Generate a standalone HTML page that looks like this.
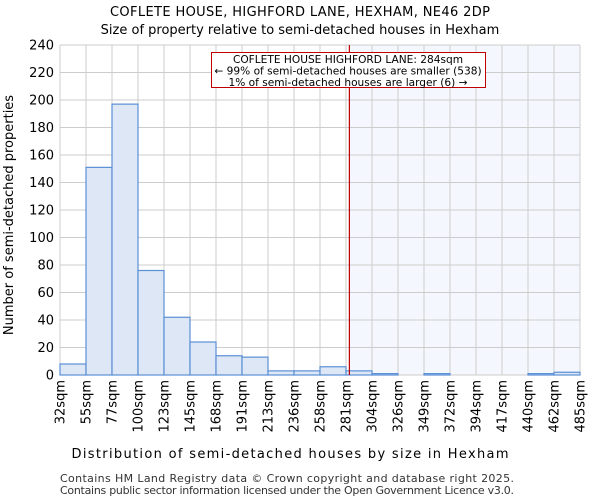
<!DOCTYPE html>
<html><head><meta charset="utf-8"><style>
body{margin:0;background:#fff;font-family:"DejaVu Sans","Liberation Sans",sans-serif}
</style></head><body>
<svg id="c" width="600" height="500" xmlns="http://www.w3.org/2000/svg" font-family="DejaVu Sans, Liberation Sans, sans-serif">
<text x="300" y="16" text-anchor="middle" font-size="13" textLength="380">COFLETE HOUSE, HIGHFORD LANE, HEXHAM, NE46 2DP</text>
<text x="300" y="34" text-anchor="middle" font-size="13">Size of property relative to semi-detached houses in Hexham</text>
<g id="plot"></g>
<text x="290" y="458" text-anchor="middle" font-size="13" textLength="437">Distribution of semi-detached houses by size in Hexham</text>
<text transform="translate(13,215) rotate(-90)" text-anchor="middle" font-size="13">Number of semi-detached properties</text>
<text x="60" y="482" font-size="11" fill="#333" textLength="454">Contains HM Land Registry data © Crown copyright and database right 2025.</text>
<text x="60" y="494" font-size="11" fill="#333" textLength="454">Contains public sector information licensed under the Open Government Licence v3.0.</text>
</svg>
<script>
const binLabels=["32sqm","55sqm","77sqm","100sqm","123sqm","145sqm","168sqm","191sqm","213sqm","236sqm","258sqm","281sqm","304sqm","326sqm","349sqm","372sqm","394sqm","417sqm","440sqm","462sqm","485sqm"];
const counts=[8,151,197,76,42,24,14,13,3,3,6,3,1,0,1,0,0,0,1,2];
const yTicks=[0,20,40,60,80,100,120,140,160,180,200,220,240];
const propertyBinPos=[11.13];
const NS="http://www.w3.org/2000/svg";
const L=60,R=580,T=45,B=375,yMax=240;
const n=counts.length,bw=(R-L)/n;
const x=i=>L+i*bw, y=v=>B-v/yMax*(B-T);
const g=document.getElementById('plot');
function mk(t,a){const e=document.createElementNS(NS,t);for(const k in a)e.setAttribute(k,a[k]);g.appendChild(e);return e;}
const px=x(propertyBinPos[0]);
let e=mk('rect',{x:px,y:T,width:R-px,height:B-T,fill:'#f4f7fd'});


yTicks.forEach(v=>{let l=mk('line',{x1:L,x2:R,y1:y(v),y2:y(v),stroke:'#cccccc'});


let t=mk('text',{x:L-6,y:y(v)+4.5,'text-anchor':'end','font-size':13});t.textContent=v;

});
binLabels.forEach((s,i)=>{let l=mk('line',{x1:x(i),x2:x(i),y1:T,y2:B,stroke:'#cccccc'});


let t=mk('text',{transform:`translate(${x(i)+4.5},380) rotate(-90)`,'text-anchor':'end','font-size':13});t.textContent=s;

});
counts.forEach((v,i)=>{if(v<=0)return;let r=mk('rect',{x:x(i),y:y(v),width:bw,height:B-y(v),fill:'#dde7f5',stroke:'#5b8fd6','stroke-width':1.2});

});
e=mk('line',{x1:px,x2:px,y1:T,y2:B,stroke:'#c00000','stroke-width':1.2});


e=mk('rect',{x:211.5,y:52.5,width:274,height:35,fill:'#fff',stroke:'#c00000'});


["COFLETE HOUSE HIGHFORD LANE: 284sqm","← 99% of semi-detached houses are smaller (538)","1% of semi-detached houses are larger (6) →"].forEach((s,i)=>{let t=mk('text',{x:348,y:63+i*11.5,'text-anchor':'middle','font-size':10.6});t.textContent=s;

});
</script>
</body></html>
